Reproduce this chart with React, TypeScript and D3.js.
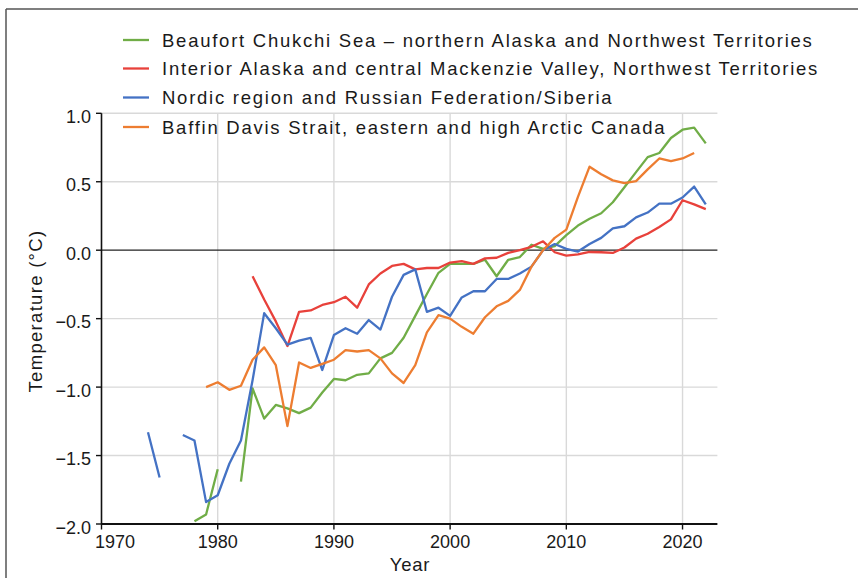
import React from 'react';
import * as d3 from 'd3';

const years = [
  1974, 1975, 1976, 1977, 1978, 1979, 1980, 1981, 1982, 1983,
  1984, 1985, 1986, 1987, 1988, 1989, 1990, 1991, 1992, 1993,
  1994, 1995, 1996, 1997, 1998, 1999, 2000, 2001, 2002, 2003,
  2004, 2005, 2006, 2007, 2008, 2009, 2010, 2011, 2012, 2013,
  2014, 2015, 2016, 2017, 2018, 2019, 2020, 2021, 2022,
];

// Beaufort Chukchi Sea
const beaufort = [
  null, null, null, null, -1.98, -1.93, -1.6, null, -1.69, -1.01,
  -1.23, -1.13, -1.155, -1.19, -1.15, -1.04, -0.94, -0.95, -0.91, -0.9,
  -0.79, -0.75, -0.64, -0.48, -0.32, -0.165, -0.1, -0.1, -0.1, -0.07,
  -0.19, -0.07, -0.05, 0.04, 0.01, 0.03, 0.11, 0.18, 0.23, 0.27,
  0.35, 0.46, 0.57, 0.68, 0.71, 0.82, 0.88, 0.895, 0.78,
];

// Interior Alaska
const interior = [
  null, null, null, null, null, null, null, null, null, -0.19,
  -0.36, -0.52, -0.7, -0.45, -0.44, -0.4, -0.38, -0.34, -0.42, -0.25,
  -0.17, -0.115, -0.1, -0.14, -0.13, -0.13, -0.09, -0.08, -0.1, -0.06,
  -0.055, -0.02, 0.0, 0.025, 0.065, -0.015, -0.04, -0.03, -0.013, -0.015,
  -0.02, 0.02, 0.085, 0.12, 0.17, 0.225, 0.365, 0.335, 0.3,
];

// Nordic region
const nordic = [
  -1.33, -1.66, null, -1.35, -1.39, -1.84, -1.79, -1.56, -1.39, -0.95,
  -0.46, -0.57, -0.69, -0.66, -0.64, -0.875, -0.62, -0.57, -0.61, -0.51,
  -0.58, -0.34, -0.18, -0.14, -0.45, -0.42, -0.48, -0.345, -0.3, -0.3,
  -0.21, -0.21, -0.17, -0.12, 0.0, 0.045, 0.01, -0.01, 0.045, 0.09,
  0.16, 0.175, 0.24, 0.275, 0.34, 0.34, 0.385, 0.465, 0.335,
];

// Baffin Davis Strait
const baffin = [
  null, null, null, null, null, -1.0, -0.965, -1.02, -0.99, -0.8,
  -0.71, -0.84, -1.285, -0.82, -0.86, -0.83, -0.8, -0.73, -0.74, -0.73,
  -0.79, -0.9, -0.97, -0.84, -0.6, -0.475, -0.5, -0.56, -0.61, -0.49,
  -0.41, -0.37, -0.29, -0.12, 0.0, 0.09, 0.15, 0.39, 0.61, 0.555,
  0.51, 0.49, 0.505, 0.59, 0.67, 0.65, 0.67, 0.71, null,
];

const seriesNames = [
  'Beaufort Chukchi Sea – northern Alaska and Northwest Territories',
  'Interior Alaska and central Mackenzie Valley, Northwest Territories',
  'Nordic region and Russian Federation/Siberia',
  'Baffin Davis Strait, eastern and high Arctic Canada',
];
const seriesValues = [beaufort, interior, nordic, baffin];
const seriesColors = ['#70ad47', '#e8413b', '#4472c4', '#ed7d31'];

const xTicks = [1970, 1980, 1990, 2000, 2010, 2020];
const yTicks = [-2.0, -1.5, -1.0, -0.5, 0.0, 0.5, 1.0];

const W = 858;
const H = 578;
const FONT = '"Liberation Sans", Arial, Helvetica, sans-serif';

const App: React.FC = () => {
  const x = d3.scaleLinear().domain([1970, 2023]).range([101.5, 717.4]);
  const y = d3.scaleLinear().domain([-2, 1]).range([524, 113.3]);

  const line = d3.line<number | null>()
    .defined(d => d !== null)
    .x((_, i) => x(years[i]))
    .y(d => y(d as number));

  const fmt = (v: number) => d3.format('.1f')(v).replace('-', '\u2212');

  return (
    <svg width={W} height={H} style={{ position: 'absolute', left: 0, top: 0, background: '#fff' }}
      fontFamily={FONT}>
      {/* frame */}
      <line x1={6} x2={W} y1={9} y2={9} stroke="#555" strokeWidth={1.5} />
      <line x1={6} x2={6} y1={9} y2={H} stroke="#555" strokeWidth={1.5} />

      {/* grid */}
      {xTicks.filter(t => t !== 1970).map(t => (
        <line key={'gx' + t} x1={x(t)} x2={x(t)} y1={y(1)} y2={y(-2)} stroke="#d9d9d9" strokeWidth={1.4} />
      ))}
      {yTicks.filter(t => t !== 0 && t !== -2).map(t => (
        <line key={'gy' + t} x1={x(1970)} x2={x(2023)} y1={y(t)} y2={y(t)} stroke="#d9d9d9" strokeWidth={1.4} />
      ))}
      <line x1={x(1970)} x2={x(2023)} y1={y(0)} y2={y(0)} stroke="#222" strokeWidth={1.3} />

      {/* axes */}
      <line x1={x(1970)} x2={x(1970)} y1={y(1)} y2={y(-2)} stroke="#111" strokeWidth={1.6} />
      <line x1={x(1970)} x2={x(2023)} y1={y(-2)} y2={y(-2)} stroke="#111" strokeWidth={2.2} />
      {yTicks.map(t => (
        <g key={'ty' + t}>
          <line x1={x(1970) - 5.5} x2={x(1970)} y1={y(t)} y2={y(t)} stroke="#111" strokeWidth={1.4} />
          <text x={91} y={y(t) + 9.5} textAnchor="end" fontSize={18} fill="#1a1a1a">{fmt(t)}</text>
        </g>
      ))}
      {xTicks.map(t => (
        <g key={'tx' + t}>
          <line x1={x(t)} x2={x(t)} y1={y(-2)} y2={y(-2) + 5.5} stroke="#111" strokeWidth={1.4} />
          <text x={t === 1970 ? x(t) + 13.5 : x(t)} y={y(-2) + 23.5} textAnchor="middle" fontSize={18} fill="#1a1a1a">{t}</text>
        </g>
      ))}
      <text x={410} y={571} textAnchor="middle" fontSize={18.5} letterSpacing={0.8} fill="#1a1a1a">Year</text>
      <text transform="translate(42,311) rotate(-90)" textAnchor="middle" fontSize={18.5} letterSpacing={1.3} fill="#1a1a1a">
        Temperature (°C)
      </text>

      {/* series */}
      {seriesValues.map((vals, i) => (
        <path key={'s' + i} d={line(vals) || ''} fill="none" stroke={seriesColors[i]} strokeWidth={2.3}
          strokeLinejoin="round" />
      ))}

      {/* legend */}
      {seriesNames.map((name, i) => {
        const ly = [40, 68.5, 97.5, 127][i];
        return (
          <g key={'lg' + i}>
            <line x1={123} x2={149} y1={ly} y2={ly} stroke={seriesColors[i]} strokeWidth={2.3} />
            <text x={162} y={ly + 6.7} fontSize={18.5} letterSpacing={1.75} fill="#1a1a1a">{name}</text>
          </g>
        );
      })}
    </svg>
  );
};

export default App;
